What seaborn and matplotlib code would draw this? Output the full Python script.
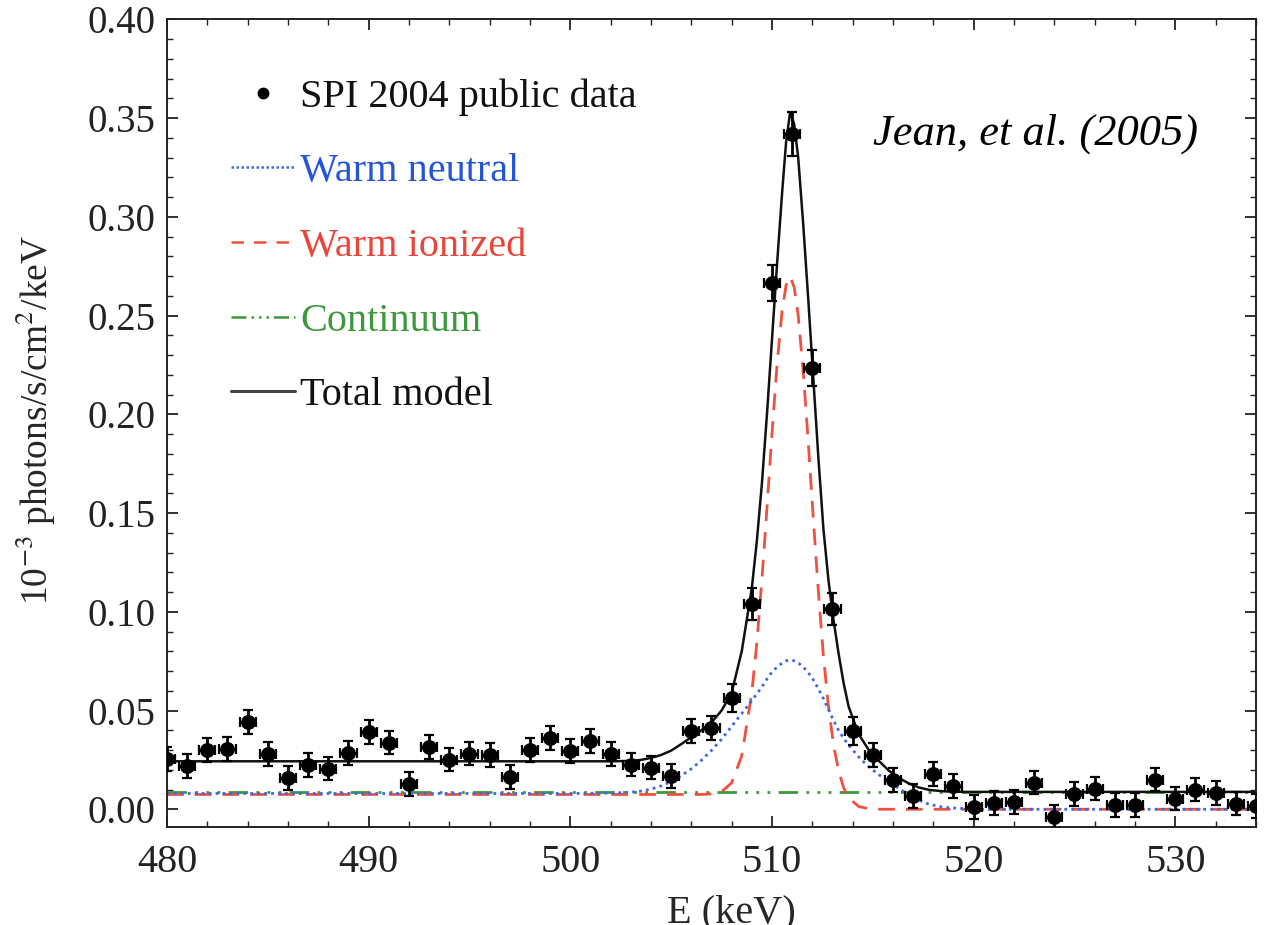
import numpy as np
import pandas as pd
import matplotlib
matplotlib.use("Agg")
import matplotlib.pyplot as plt
import seaborn as sns
from matplotlib.lines import Line2D
from matplotlib.ticker import MultipleLocator, FormatStrFormatter

# ---------------- data ----------------
energy = list(range(480, 535))
flux = [0.0253, 0.0218, 0.0299, 0.0304, 0.0442, 0.0279, 0.0159, 0.0223, 0.0206, 0.0285,
        0.0392, 0.0338, 0.0127, 0.0316, 0.0252, 0.0282, 0.0274, 0.0164, 0.0300, 0.0362,
        0.0294, 0.0344, 0.0279, 0.0226, 0.0211, 0.0167, 0.0398, 0.0410, 0.0565, 0.1040,
        0.2665, 0.3420, 0.2234, 0.1015, 0.0398, 0.0276, 0.0147, 0.0068, 0.0177, 0.0117,
        0.0012, 0.0032, 0.0037, 0.0135, -0.0039, 0.0079, 0.0105, 0.0020, 0.0020, 0.0150,
        0.0054, 0.0100, 0.0083, 0.0029, 0.0017]
flux_err = [0.006] * 28 + [0.007, 0.008, 0.009, 0.011, 0.009, 0.008, 0.007] + [0.006] * 20
energy_halfwidth = [0.4] * 55

model_energy = [480, 500, 502, 503, 503.5, 504, 504.5, 505, 505.5, 506, 506.5, 507, 507.5,
                508, 508.5, 509, 509.25, 509.5, 509.75, 510, 510.25, 510.5, 510.7, 510.9,
                511.1, 511.3, 511.55, 511.8, 512.05, 512.3, 512.55, 512.8, 513.05, 513.3,
                513.55, 513.8, 514.3, 514.8, 515.3, 515.8, 516.3, 516.8, 517.3, 517.8,
                518.5, 519.5, 520.5, 534]
warm_neutral = [0.0080, 0.0080, 0.0082, 0.0086, 0.0092, 0.0102, 0.0118, 0.0140, 0.0170, 0.0205,
                0.0248, 0.0298, 0.0355, 0.0420, 0.0485, 0.0550, 0.0585, 0.0620, 0.0660, 0.0695,
                0.0720, 0.0740, 0.0752, 0.0755, 0.0752, 0.0742, 0.0720, 0.0692, 0.0655, 0.0610,
                0.0560, 0.0505, 0.0450, 0.0400, 0.0360, 0.0325, 0.0265, 0.0215, 0.0175, 0.0140,
                0.0105, 0.0072, 0.0045, 0.0025, 0.0010, 0.0003, 0.0, 0.0]
warm_ionized = [0.0075, 0.0075, 0.0075, 0.0075, 0.0075, 0.0075, 0.0075, 0.0075, 0.0075, 0.0075,
                0.0075, 0.0078, 0.0089, 0.0134, 0.0270, 0.0590, 0.0845, 0.1162, 0.1525, 0.1903,
                0.2251, 0.2523, 0.2655, 0.2698, 0.2644, 0.2500, 0.2216, 0.1857, 0.1470, 0.1101,
                0.0778, 0.0520, 0.0328, 0.0196, 0.0110, 0.0059, 0.0014, 0.0003, 0.0, 0.0,
                0.0, 0.0, 0.0, 0.0, 0.0, 0.0, 0.0, 0.0]
continuum = [0.0088] * 48
total_model = [0.0243, 0.0243, 0.0243, 0.0245, 0.0250, 0.0260, 0.0275, 0.0297, 0.0330, 0.0365,
               0.0400, 0.0440, 0.0500, 0.0590, 0.0800, 0.1120, 0.1360, 0.1650, 0.2000, 0.2380,
               0.2760, 0.3120, 0.3380, 0.3530, 0.3470, 0.3300, 0.2960, 0.2580, 0.2180, 0.1780,
               0.1420, 0.1160, 0.0960, 0.0790, 0.0640, 0.0520, 0.0380, 0.0300, 0.0245, 0.0195,
               0.0158, 0.0130, 0.0110, 0.0098, 0.0091, 0.0088, 0.0088, 0.0088]

labels = ["SPI 2004 public data", "Warm neutral", "Warm ionized", "Continuum", "Total model"]

# ---------------- style ----------------
sns.set_theme(style="ticks")
plt.rcParams["font.family"] = ["Liberation Serif", "DejaVu Serif"]
plt.rcParams["mathtext.fontset"] = "stix"
plt.rcParams["axes.linewidth"] = 1.4

BLUE_L, BLUE_T = "#3a6ae8", "#2454d8"
RED_L, RED_T = "#f0503c", "#e8463a"
GREEN_L, GREEN_T = "#3a9a3a", "#3c9a3c"
FS = 29

fig = plt.figure(figsize=(12.66, 9.25), dpi=100)
ax = fig.add_axes([0.1319, 0.1059, 0.8602, 0.8731])

df_model = pd.DataFrame({"E": model_energy, "neutral": warm_neutral, "ionized": warm_ionized,
                         "cont": continuum, "total": total_model})
df_data = pd.DataFrame({"E": energy, "flux": flux, "err": flux_err, "xerr": energy_halfwidth})

green_style = (0, (7, 3, 1, 3, 1, 3, 1, 3))
sns.lineplot(data=df_model, x="E", y="cont", ax=ax, color=GREEN_L, lw=2.0,
             linestyle=green_style, estimator=None, sort=False)
sns.lineplot(data=df_model, x="E", y="ionized", ax=ax, color=RED_L, lw=2.0,
             linestyle=(0, (6, 4)), estimator=None, sort=False)
sns.lineplot(data=df_model, x="E", y="neutral", ax=ax, color=BLUE_L, lw=2.0,
             linestyle=(0, (1, 1.5)), estimator=None, sort=False)
sns.lineplot(data=df_model, x="E", y="total", ax=ax, color="#111111", lw=1.8,
             estimator=None, sort=False)

ax.errorbar(df_data["E"], df_data["flux"], yerr=df_data["err"], xerr=df_data["xerr"],
            fmt="none", ecolor="black", elinewidth=2.0, capsize=3.5, capthick=1.6, zorder=4)
sns.scatterplot(data=df_data, x="E", y="flux", ax=ax, color="black", s=115,
                edgecolor="black", linewidth=0, zorder=5)

ax.set_xlim(480, 534)
ax.set_ylim(-0.009, 0.40)
ax.xaxis.set_major_locator(MultipleLocator(10))
ax.xaxis.set_minor_locator(MultipleLocator(2))
ax.yaxis.set_major_locator(MultipleLocator(0.05))
ax.yaxis.set_minor_locator(MultipleLocator(0.01))
ax.yaxis.set_major_formatter(FormatStrFormatter("%.2f"))
ax.tick_params(which="both", direction="in", top=True, right=True, colors="#222222")
ax.tick_params(which="major", length=8, width=1.3)
ax.tick_params(which="minor", length=4, width=1.0)
ax.tick_params(axis="x", labelsize=FS, pad=12)
ax.tick_params(axis="y", labelsize=28, pad=8)
for s in ax.spines.values():
    s.set_color("#222222")

ax.set_xlabel("E (keV)", fontsize=FS)
ax.xaxis.set_label_coords(0.518, -0.083)
ax.set_ylabel(r"10$^{-3}$ photons/s/cm$^{2}$/keV", fontsize=27)
ax.yaxis.set_label_coords(-0.100, 0.504)

handles = [
    Line2D([], [], marker="o", color="black", linestyle="none", markersize=7.5),
    Line2D([], [], color=BLUE_L, lw=1.8, linestyle=(0, (1, 1))),
    Line2D([], [], color=RED_L, lw=1.8, linestyle=(0, (5, 4))),
    Line2D([], [], color=GREEN_L, lw=1.8, linestyle=(0, (6, 2, 1, 2, 1, 2, 1, 2))),
    Line2D([], [], color="#444444", lw=2.2),
]
leg = ax.legend(handles, labels, loc="upper left", bbox_to_anchor=(0.044, 0.947),
                frameon=False, fontsize=FS, handlelength=1.6, handletextpad=0.12,
                labelspacing=0.93, borderaxespad=0)
for txt, col in zip(leg.get_texts(), ["#111111", BLUE_T, RED_T, GREEN_T, "#111111"]):
    txt.set_color(col)

fig.text(0.818, 0.855, "Jean, et al. (2005)", fontsize=32, style="italic",
         ha="center", va="center", color="black")

fig.savefig("out.png", dpi=100)
